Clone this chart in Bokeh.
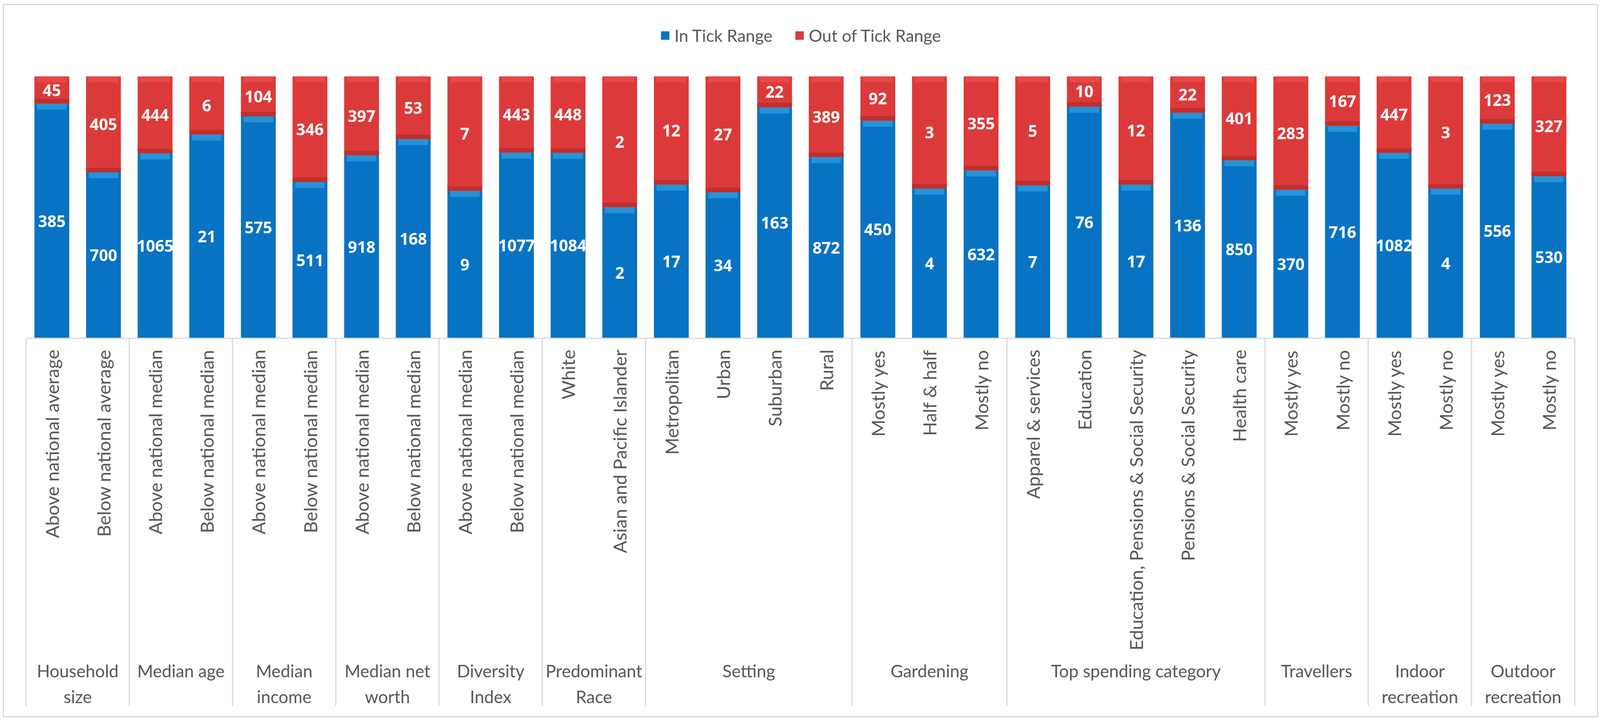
import math
from bokeh.plotting import figure
from bokeh.models import FactorRange, Range1d, ColumnDataSource
from bokeh.core.properties import value
from bokeh.embed import file_html
from bokeh.resources import INLINE

# ---------------- data ----------------
groups = ["Household size", "Median age", "Median income", "Median net worth",
          "Diversity Index", "Predominant Race", "Setting", "Gardening",
          "Top spending category", "Travellers", "Indoor recreation", "Outdoor recreation"]
group_labels = ["Household\nsize", "Median age", "Median\nincome", "Median net\nworth",
                "Diversity\nIndex", "Predominant\nRace", "Setting", "Gardening",
                "Top spending category", "Travellers", "Indoor\nrecreation", "Outdoor\nrecreation"]
subcategories = [
    ["Above national average", "Below national average"],
    ["Above national median", "Below national median"],
    ["Above national median", "Below national median"],
    ["Above national median", "Below national median"],
    ["Above national median", "Below national median"],
    ["White", "Asian and Pacific Islander"],
    ["Metropolitan", "Urban", "Suburban", "Rural"],
    ["Mostly yes", "Half & half", "Mostly no"],
    ["Apparel & services", "Education", "Education, Pensions & Social Security",
     "Pensions & Social Security", "Health care"],
    ["Mostly yes", "Mostly no"],
    ["Mostly yes", "Mostly no"],
    ["Mostly yes", "Mostly no"],
]
in_tick = [385, 700, 1065, 21, 575, 511, 918, 168, 9, 1077, 1084, 2,
           17, 34, 163, 872, 450, 4, 632, 7, 76, 17, 136, 850,
           370, 716, 1082, 4, 556, 530]
out_tick = [45, 405, 444, 6, 104, 346, 397, 53, 7, 443, 448, 2,
            12, 27, 22, 389, 92, 3, 355, 5, 10, 12, 22, 401,
            283, 167, 447, 3, 123, 327]
series_names = ["In Tick Range", "Out of Tick Range"]

# ---------------- styling ----------------
SX = 0.929   # horizontal page scale (visible viewport is narrower than the reference)

BLUE = "#0873c3"
BLUE_HI = "#37a9ea"
RED = "#dc3a3a"
RED_HI = "#f05252"
RED_LO = "#a82626"
GRID = "#d9d9d9"
TXT = "#595959"
LABEL_FONT = "Lato"
NUM_FONT = "Open Sans"

factors = [(g, s) for g, subs in zip(groups, subcategories) for s in subs]
totals = [a + b for a, b in zip(in_tick, out_tick)]
in_frac = [a / t for a, t in zip(in_tick, totals)]

PX_PER_UNIT = 670.0   # vertical pixels for the 0..1 bar scale
HI = 15 / PX_PER_UNIT
LO = 12 / PX_PER_UNIT

src = ColumnDataSource(dict(
    x=factors,
    in_top=in_frac,
    in_hi=[f - HI for f in in_frac],
    in_lo=[f + LO for f in in_frac],
    zero=[0.0] * len(factors),
    one=[1.0] * len(factors),
    one_hi=[1.0 - HI] * len(factors),
    in_mid=[f / 2 for f in in_frac],
    out_mid=[(1 + f) / 2 for f in in_frac],
    in_txt=[str(v) for v in in_tick],
    out_txt=[str(v) for v in out_tick],
    sub=[s for _, s in factors],
))

x_range = FactorRange(*factors, factor_padding=0, group_padding=0,
                      range_padding=0.44, range_padding_units="absolute")

Y_BOTTOM = -(1841 - 873) / PX_PER_UNIT
Y_TOP = 1 + (203 - 19) / PX_PER_UNIT
frame_w = int(round((4410 - 17) * SX))
frame_h = 1841 - 19
p = figure(x_range=x_range, y_range=Range1d(Y_BOTTOM, Y_TOP),
           width=frame_w + 10, height=frame_h + 14,
           output_backend="svg", toolbar_location=None,
           x_axis_location=None, y_axis_location=None,
           min_border_left=8, min_border_top=11, min_border_right=2, min_border_bottom=3)
p.grid.visible = False
p.outline_line_color = GRID
p.outline_line_width = 3
p.background_fill_color = "white"

BAR_W = 0.675
p.vbar(x="x", bottom="zero", top="in_top", width=BAR_W, source=src,
       fill_color=BLUE, line_color=None, legend_label=series_names[0])
p.vbar(x="x", bottom="in_top", top="one", width=BAR_W, source=src,
       fill_color=RED, line_color=None, legend_label=series_names[1])
# bevel shading at the edges of each segment
p.vbar(x="x", bottom="in_top", top="in_lo", width=BAR_W, source=src,
       fill_color=RED_LO, fill_alpha=0.55, line_color=None)
p.vbar(x="x", bottom="in_hi", top="in_top", width=BAR_W * 0.85, source=src,
       fill_color=BLUE_HI, fill_alpha=0.6, line_color=None)
p.vbar(x="x", bottom="one_hi", top="one", width=BAR_W * 0.85, source=src,
       fill_color=RED_HI, fill_alpha=0.6, line_color=None)

for ycol, tcol in (("in_mid", "in_txt"), ("out_mid", "out_txt")):
    p.text(x="x", y=ycol, text=tcol, source=src, text_color="white",
           text_font=value(NUM_FONT), text_font_style="bold", text_font_size="41px",
           text_align="center", text_baseline="middle")

# ----- category "table" below the bars -----
LINE_BOTTOM = -(1813 - 873) / PX_PER_UNIT
first_f = factors[0]
last_f = factors[-1]
p.segment(x0=[(first_f[0], first_f[1], -0.5)], x1=[(last_f[0], last_f[1], 0.5)],
          y0=[0], y1=[0], line_color=GRID, line_width=3)
sep_x = [(g, subs[0], -0.5) for g, subs in zip(groups, subcategories)]
sep_x.append((last_f[0], last_f[1], 0.5))
p.segment(x0=sep_x, x1=sep_x, y0=[0] * len(sep_x), y1=[LINE_BOTTOM] * len(sep_x),
          line_color=GRID, line_width=3)

p.text(x="x", y=-(902 - 873) / PX_PER_UNIT, text="sub", source=src, angle=math.pi / 2,
       text_align="right", text_baseline="middle", text_color=TXT,
       text_font=value(LABEL_FONT), text_font_size="47px")

grp_x = [(g, subs[0], len(subs) / 2 - 0.5) for g, subs in zip(groups, subcategories)]
p.text(x=grp_x, y=[-(1697 - 873) / PX_PER_UNIT] * len(grp_x), text=group_labels,
       text_align="center", text_baseline="top", text_color=TXT,
       text_font=value(LABEL_FONT), text_font_size="44px", text_line_height=1.28)

# ----- legend -----
lg = p.legend[0]
lg.location = "top_center"
lg.orientation = "horizontal"
lg.margin = 54
lg.padding = 8
lg.spacing = int(60 * SX)
lg.label_standoff = 11
lg.glyph_width = 27
lg.glyph_height = 27
lg.label_text_font = LABEL_FONT
lg.label_text_font_size = "43px"
lg.label_text_color = TXT
lg.border_line_color = None
lg.background_fill_alpha = 0

open("out.html", "w").write(file_html(p, INLINE))
